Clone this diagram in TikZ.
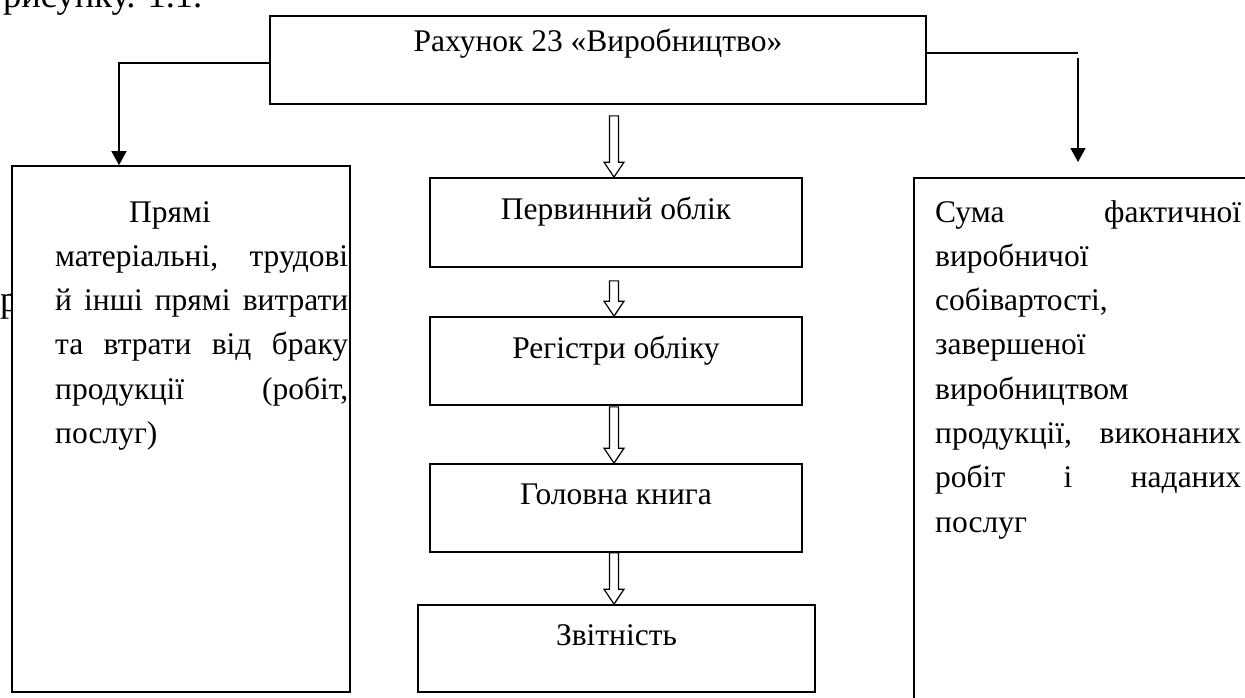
\documentclass[tikz,border=0pt]{standalone}
\usepackage{fontspec}
\setmainfont{Liberation Serif}
\usetikzlibrary{arrows.meta,calc,fit}
\newcommand\holarrow[3]{%
  \draw[hollow] let \p1=($(#1.south)+(0,#2)$), \p2=(#3.north) in
    (609.5pt,\y1) -- (618.5pt,\y1) -- (618.5pt,\y2+15pt) -- (624pt,\y2+15pt)
    -- (614pt,\y2) -- (604pt,\y2+15pt) -- (609.5pt,\y2+15pt) -- cycle;}
\begin{document}
\begin{tikzpicture}[x=1pt,y=-1pt,
  box/.style={draw, line width=1.7pt, fill=white, inner sep=0pt},
  txt/.style={font=\fontsize{31.5}{37}\selectfont, inner sep=0pt, anchor=base},
  ltxt/.style={txt, anchor=base west},
  bodytxt/.style={ltxt, font=\fontsize{36.5}{42}\selectfont},
  conn/.style={line width=1.5pt},
  arr/.style={conn, -{Triangle[width=15pt,length=14pt]}},
  hollow/.style={line width=1.2pt}]
\useasboundingbox (0,0) rectangle (1245,697);
\clip (0,0) rectangle (1245,697);

% fragments of the surrounding page text
\node[bodytxt] (frag1) at (3,7) {рисунку. 1.1.};
\node[bodytxt] (frag2) at (0,311) {р};

% boxes
\node[box, fit={(270,16)(926,104)}] (top) {};
\node[box, fit={(12,166)(350,692)}] (left) {};
\node[box, fit={(914,178)(1275,720)}] (right) {};
\node[box, fit={(430,178)(802,267)}] (b1) {};
\node[box, fit={(430,317)(802,405)}] (b2) {};
\node[box, fit={(430,464)(802,552)}] (b3) {};
\node[box, fit={(418,605)(815,692)}] (b4) {};

% texts
\node[txt] (t0) at ($(top.north)+(0,36)$) {Рахунок 23 «Виробництво»};
\node[txt] (t1) at ($(b1.north)+(0,42)$) {Первинний облік};
\node[txt] (t2) at ($(b2.north)+(0,42)$) {Регістри обліку};
\node[txt] (t3) at ($(b3.north)+(0,41)$) {Головна книга};
\node[txt] (t4) at ($(b4.north)+(0,41)$) {Звітність};

\node[ltxt] (l1) at (129,222) {Прямі};
\node[ltxt] (l2) at (55,266.3) {\hbox to 293pt{матеріальні,\hfill трудові}};
\node[ltxt] (l3) at (55,310.6) {\hbox to 293pt{й\hfill інші\hfill прямі\hfill витрати}};
\node[ltxt] (l4) at (55,354.9) {\hbox to 293pt{та\hfill втрати\hfill від\hfill браку}};
\node[ltxt] (l5) at (55,399.2) {\hbox to 293pt{продукції\hfill (робіт,}};
\node[ltxt] (l6) at (55,443.5) {послуг)};

\node[ltxt] (r1) at (935,222) {\hbox to 306pt{Сума\hfill фактичної}};
\node[ltxt] (r2) at (935,266.3) {виробничої};
\node[ltxt] (r3) at (935,310.6) {собівартості,};
\node[ltxt] (r4) at (935,354.9) {завершеної};
\node[ltxt] (r5) at (935,399.2) {виробництвом};
\node[ltxt] (r6) at (935,443.5) {\hbox to 306pt{продукції,\hfill виконаних}};
\node[ltxt] (r7) at (935,487.8) {\hbox to 306pt{робіт\hfill і\hfill наданих}};
\node[ltxt] (r8) at (935,532.1) {послуг};

% connectors
\coordinate (lk) at (119,63);
\draw[arr] (top.west |- lk) -- (lk) -- (lk |- left.north);
\coordinate (rk) at (1078,53);
\draw[conn] (top.east |- rk) -- (rk);
\coordinate (rs) at (1078,58);
\coordinate (re) at (1078,162);
\draw[arr] (rs) -- (re);

\holarrow{top}{11}{b1}
\holarrow{b1}{13}{b2}
\holarrow{b2}{1}{b3}
\holarrow{b3}{0}{b4}
\end{tikzpicture}
\end{document}
